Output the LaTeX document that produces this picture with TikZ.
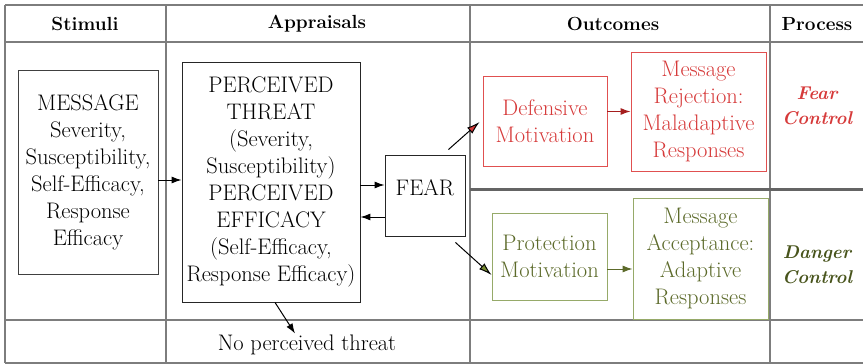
\documentclass[tikz,border=0pt]{standalone}
\usetikzlibrary{arrows.meta,calc}
\definecolor{redc}{RGB}{214,58,58}
\definecolor{redbox}{RGB}{224,80,80}
\definecolor{darkredc}{RGB}{165,30,30}
\definecolor{olivec}{RGB}{92,106,42}
\definecolor{olivebox}{RGB}{150,170,105}
\definecolor{olivetip}{RGB}{120,140,50}
\definecolor{darkolive}{RGB}{72,84,28}
\definecolor{gridc}{RGB}{125,125,125}
\tikzset{
  grid/.style={draw=gridc,line width=1.6pt},
  midline/.style={draw=gridc!80!black,line width=3pt},
  head/.style={font=\fontsize{19}{24}\selectfont\bfseries},
  boxed/.style={draw=black!85,line width=0.9pt,align=center,inner sep=0pt,font=\fontsize{22.5}{27}\selectfont},
  redbox/.style={boxed,draw=redbox,text=redc},
  greenbox/.style={boxed,draw=olivebox,text=olivec},
  plain/.style={font=\fontsize{22.5}{27}\selectfont},
  proc/.style={align=center,font=\fontsize{18.5}{25}\selectfont\bfseries\itshape},
  arr/.style={line width=1pt,-{Latex[length=10pt,width=7pt]}},
}
\begin{document}
\begin{tikzpicture}[x=1pt,y=-1pt]
\useasboundingbox (0,0) rectangle (863,364);
% table grid
\draw[grid] (5,5) -- (863,5);
\draw[grid] (5,42) -- (863,42);
\draw[grid] (5,320) -- (863,320);
\draw[grid] (5,363) -- (863,363);
\draw[grid] (5,5) -- (5,363);
\draw[grid] (166,5) -- (166,363);
\draw[grid] (470,5) -- (470,363);
\draw[grid] (770,5) -- (770,363);
\draw[midline] (470,189) -- (863,189);
% headers
\node[head] (hs) at (85,24) {Stimuli};
\node[head] (ha) at (317,24) {Appraisals};
\node[head] (ho) at (613,24) {Outcomes};
\node[head] (hp) at (817,24) {Process};
% boxes
\node[boxed,draw=black!75,minimum width=140pt,minimum height=204pt] (msg) at (88,172)
  {MESSAGE\\Severity,\\Susceptibility,\\Self-Efficacy,\\Response\\Efficacy};
\node[boxed,minimum width=178pt,minimum height=240pt] (per) at (271,182)
  {PERCEIVED\\THREAT\\(Severity,\\Susceptibility)\\PERCEIVED\\EFFICACY\\(Self-Efficacy,\\Response Efficacy)};
\node[boxed,minimum width=80pt,minimum height=81pt,text depth=16pt] (fear) at (425,195.5) {FEAR};
\node[redbox,minimum width=124pt,minimum height=90pt] (def) at (545,121)
  {Defensive\\Motivation};
\node[redbox,minimum width=135pt,minimum height=119pt] (rej) at (698.5,111.5)
  {Message\\Rejection:\\Maladaptive\\Responses};
\node[greenbox,minimum width=115pt,minimum height=87pt] (prot) at (549.5,256.5)
  {Protection\\Motivation};
\node[greenbox,minimum width=135pt,minimum height=121pt] (acc) at (700.5,258.5)
  {Message\\Acceptance:\\Adaptive\\Responses};
\node[plain] (nt) at (307,345) {No perceived threat};
\node[proc,text=redc] (fc) at (817,106) {Fear\\Control};
\node[proc,text=darkolive] (dc) at (817,265) {Danger\\Control};
% arrows
\coordinate (m1) at ($(msg.east)+(0,8)$);
\draw[arr] (m1) -- (m1 -| per.west);
\coordinate (p1) at ($(per.east)+(0,3)$);
\draw[arr] (p1) -- (p1 -| fear.west);
\coordinate (f1) at ($(fear.west)+(0,21.5)$);
\draw[arr] (f1) -- (f1 -| per.east);
\draw[line width=1pt,-{Latex[length=13pt,width=8pt,fill=redc]}]
  ($(fear.north east)+(-17,-5)$) -- ($(def.west)+(-3,1)$);
\draw[line width=1pt,-{Latex[length=13pt,width=8pt,fill=olivetip]}]
  ($(fear.south east)+(-10,6)$) -- ($(prot.west)+(0,18.5)$);
\draw[arr,draw=darkredc] (def.east |- rej.west) -- (rej.west);
\coordinate (g1) at ($(acc.west)+(0,10.5)$);
\draw[arr,draw=olivec] (g1 -| prot.east) -- (g1);
\draw[arr] ($(per.south)+(4,0)$) -- ($(nt.north)+(-12,2)$);
\end{tikzpicture}
\end{document}
